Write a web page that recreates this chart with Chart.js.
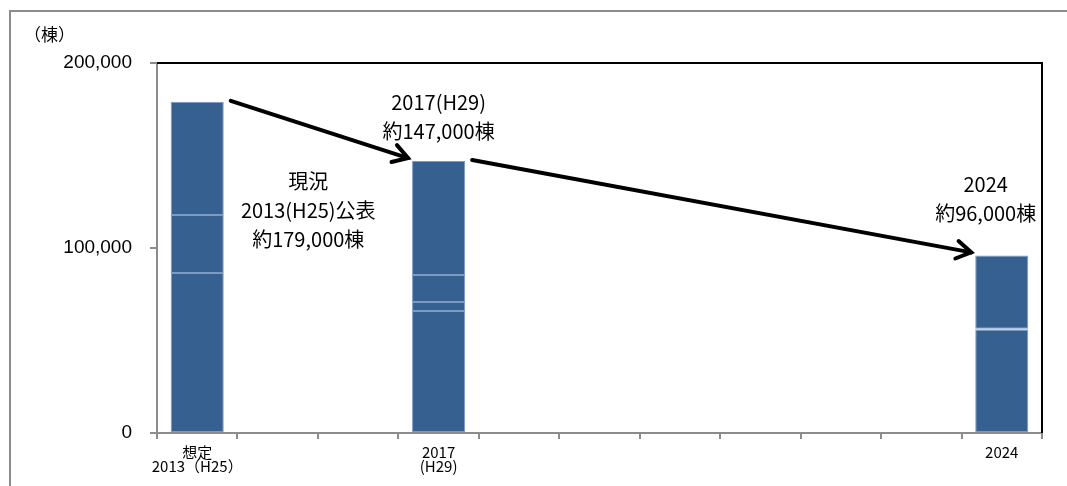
<!DOCTYPE html>
<html>
<head>
<meta charset="utf-8">
<script src="https://cdn.jsdelivr.net/npm/chart.js@4"></script>
<style>
  html, body { margin: 0; padding: 0; background: #fff; }
  #wrap { width: 1067px; height: 486px; position: relative; }
</style>
</head>
<body>
<div id="wrap"><canvas id="c"></canvas></div>
<script>
// categories: one slot per year, only three carry a bar
const years = [
  ['想定', '2013（H25）'], '', '', ['2017', '(H29)'], '', '', '', '', '', '', '2024',
]
// stacked pieces of each bar, bottom to top (thin light lines between them)
const seg1 = [86500, null, null, 65900, null, null, null, null, null, null, 55900]
const seg2 = [31300, null, null, 4900, null, null, null, null, null, null, 400]
const seg3 = [61200, null, null, 14600, null, null, null, null, null, null, 39700]
const seg4 = [null, null, null, 61600, null, null, null, null, null, null, null]
const yTicks = [0, 100000, 200000]

// totals shown in the callouts, and where the bars sit
const totals = [179000, 147000, 96000]
const barIdx = [0, 3, 10]
const notes = [
  ['2017(H29)', '約147,000棟'],
  ['現況', '2013(H25)公表', '約179,000棟'],
  ['2024', '約96,000棟'],
]

const BAR = '#36608f'
const EDGE = '#7d9ac4'

const frame = {
  id: 'frame',
  beforeDraw(chart) {
    const c = chart.ctx
    c.save()
    c.strokeStyle = '#8c8c8c'
    c.lineWidth = 2
    c.strokeRect(10, 11, 1200, 600)
    c.restore()
  },
  afterDraw(chart) {
    const c = chart.ctx
    const a = chart.chartArea
    const x = chart.scales.x, y = chart.scales.y
    c.save()
    // black top + right border of the plot
    c.strokeStyle = '#000'
    c.lineWidth = 2
    c.beginPath()
    c.moveTo(a.left, a.top)
    c.lineTo(a.right, a.top)
    c.lineTo(a.right, a.bottom)
    c.stroke()

    // axis unit
    c.fillStyle = '#000'
    c.font = '17px "Noto Sans CJK JP"'
    c.textAlign = 'left'
    c.textBaseline = 'middle'
    c.fillText('（棟）', 24, 35)

    // callout text
    c.font = '20px "Noto Sans CJK JP"'
    c.textAlign = 'center'
    const place = [
      { cx: x.getPixelForValue(3), cy: y.getPixelForValue(totals[1]) - 59 },
      { cx: x.getPixelForValue(1.38), cy: y.getPixelForValue(totals[0]) + 80 },
      { cx: x.getPixelForValue(9.8), cy: y.getPixelForValue(totals[2]) - 71 },
    ]
    notes.forEach((lines, i) => {
      lines.forEach((t, j) => c.fillText(t, place[i].cx, place[i].cy + j * 29))
    })

    // arrows from bar to bar
    const half = chart.getDatasetMeta(0).data[0].width / 2
    const arrow = (x1, y1, x2, y2) => {
      c.strokeStyle = '#000'
      c.lineWidth = 4
      c.lineCap = 'round'
      c.beginPath()
      c.moveTo(x1, y1)
      c.lineTo(x2, y2)
      c.stroke()
      const ang = Math.atan2(y2 - y1, x2 - x1)
      const L = 17, w = 0.55
      c.beginPath()
      c.moveTo(x2 - L * Math.cos(ang - w), y2 - L * Math.sin(ang - w))
      c.lineTo(x2, y2)
      c.lineTo(x2 - L * Math.cos(ang + w), y2 - L * Math.sin(ang + w))
      c.stroke()
    }
    for (let i = 0; i < 2; i++) {
      const xa = x.getPixelForValue(barIdx[i]) + half + 7
      const ya = y.getPixelForValue(totals[i]) - 1
      const xb = x.getPixelForValue(barIdx[i + 1]) - half - 4
      const yb = y.getPixelForValue(totals[i + 1]) - 3
      arrow(xa, ya, xb, yb)
    }
    c.restore()
  },
}

const mk = data => ({
  data,
  backgroundColor: BAR,
  borderColor: EDGE,
  borderWidth: 1,
  borderSkipped: false,
  barPercentage: 0.66,
  categoryPercentage: 1,
})

new Chart(document.getElementById('c'), {
  type: 'bar',
  data: { labels: years, datasets: [mk(seg1), mk(seg2), mk(seg3), mk(seg4)] },
  plugins: [frame],
  options: {
    responsive: true,
    maintainAspectRatio: false,
    animation: false,
    layout: { padding: { left: 10, right: 25, top: 63, bottom: 0 } },
    plugins: { legend: { display: false }, tooltip: { enabled: false } },
    scales: {
      x: {
        stacked: true,
        offset: true,
        grid: { offset: true, drawOnChartArea: false, color: '#8c8c8c', tickLength: 6, lineWidth: 2 },
        border: { color: '#8c8c8c', width: 2 },
        ticks: {
          color: '#000', maxRotation: 0, autoSkip: false, padding: 6,
          font: { family: '"Liberation Sans Narrow", "Noto Sans CJK JP"', size: 15, lineHeight: 0.95 },
        },
        afterFit: s => { s.height = 53 },
      },
      y: {
        stacked: true,
        min: 0, max: 200000,
        afterBuildTicks: s => { s.ticks = yTicks.map(v => ({ value: v })) },
        grid: { drawOnChartArea: false, color: '#8c8c8c', tickLength: 7, lineWidth: 2 },
        border: { color: '#8c8c8c', width: 2 },
        ticks: {
          color: '#000', padding: 18,
          font: { family: '"Liberation Sans", sans-serif', size: 19 },
          callback: v => v.toLocaleString('en-US'),
        },
        afterFit: s => { s.width = 147 },
      },
    },
  },
})
</script>
</body>
</html>
